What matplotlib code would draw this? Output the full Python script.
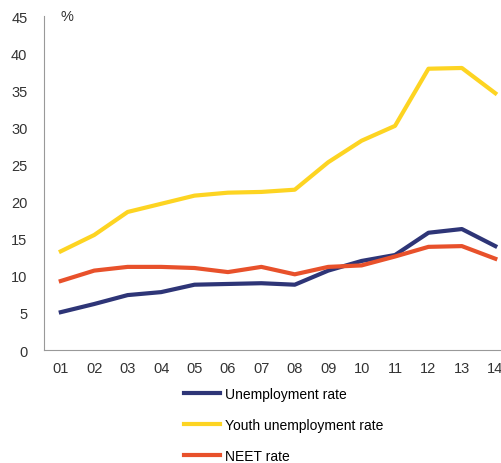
import numpy as np
import matplotlib.pyplot as plt

years = ["01", "02", "03", "04", "05", "06", "07", "08", "09", "10", "11", "12", "13", "14"]
unemployment = [5.1, 6.2, 7.4, 7.8, 8.8, 8.9, 9.0, 8.8, 10.7, 12.0, 12.8, 15.8, 16.3, 14.0]
youth = [13.3, 15.5, 18.6, 19.7, 20.8, 21.2, 21.3, 21.6, 25.3, 28.2, 30.2, 37.9, 38.0, 34.6]
neet = [9.3, 10.7, 11.2, 11.2, 11.05, 10.5, 11.2, 10.2, 11.2, 11.4, 12.6, 13.9, 14.0, 12.3]

plt.rcParams['font.family'] = ['Liberation Sans', 'DejaVu Sans']

fig = plt.figure(figsize=(5.01, 4.64), dpi=100)
ax = fig.add_axes([0.088, 0.2435, 0.934, 0.7198])

x = np.arange(1, len(years) + 1)
lw = 3.0
l1, = ax.plot(x, unemployment, color="#2E3577", lw=lw, label="Unemployment rate")
l2, = ax.plot(x, youth, color="#FDD422", lw=lw, label="Youth unemployment rate")
l3, = ax.plot(x, neet, color="#E8512B", lw=lw, label="NEET rate")

ax.set_xlim(0.5, 14.5)
ax.set_ylim(0, 45)
ax.set_yticks(np.arange(0, 46, 5))
ax.set_xticks(x)
ax.set_xticklabels(years)
ax.tick_params(length=0, labelsize=10.5, colors="#333333", pad=8)
ax.tick_params(axis="y", pad=12)

for s in ["top", "right"]:
    ax.spines[s].set_visible(False)
ax.spines["left"].set_color("#999999")
ax.spines["bottom"].set_color("#999999")

ax.text(1.18, 45, "%", fontsize=10.5, color="#333333", ha="center", va="center")

fig.legend(handles=[l1, l2, l3], loc="upper left", bbox_to_anchor=(0.368, 0.164),
           frameon=False, fontsize=10, handlelength=2.6, handletextpad=0.3,
           labelspacing=1.22, borderaxespad=0, borderpad=0)

fig.savefig("out.png", dpi=100)
